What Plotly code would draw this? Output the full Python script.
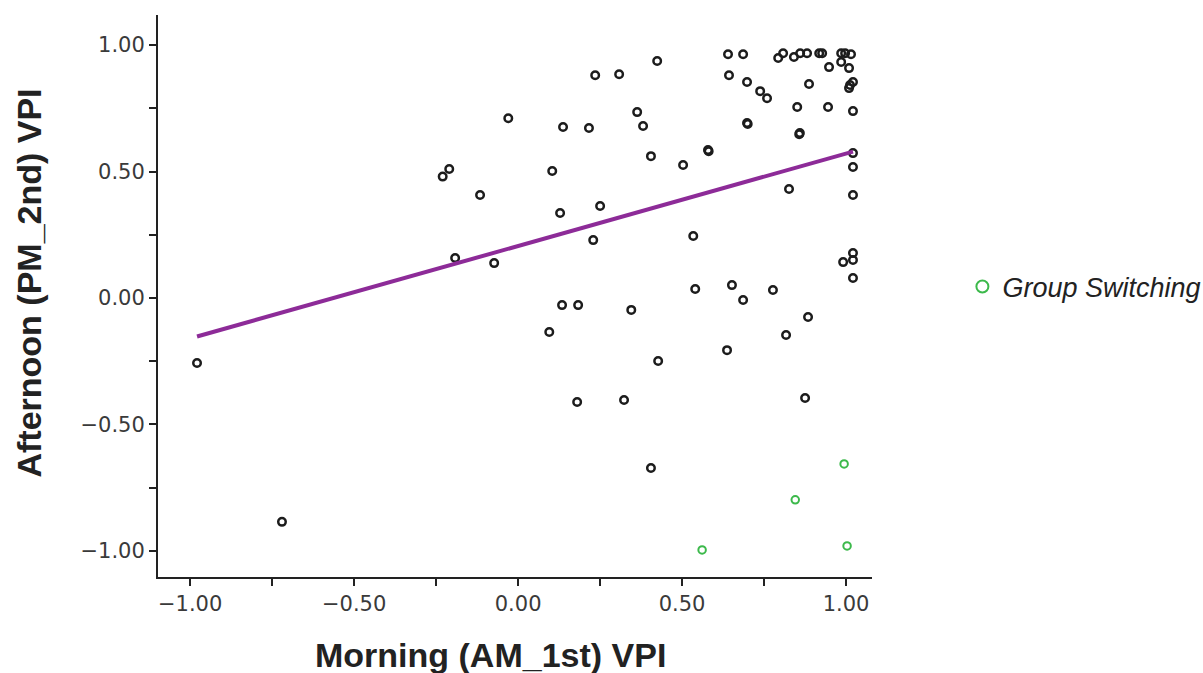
import plotly.graph_objects as go

# Morning (AM_1st) vs afternoon (PM_2nd) VPI per participant
am_vpi = [
    -0.979, -0.720, -0.230, -0.210, -0.116, -0.192, -0.073, -0.030,
    0.104, 0.128, 0.137, 0.216, 0.235, 0.308, 0.250, 0.229,
    0.363, 0.381, 0.424, 0.405, 0.503, 0.579, 0.581, 0.534,
    0.095, 0.134, 0.183, 0.345, 0.180, 0.323, 0.427, 0.405,
    0.540, 0.652, 0.686, 0.637, 0.777, 0.817, 0.884, 0.875,
    0.826, 1.021, 1.021, 0.991, 1.021, 1.021,
    0.640, 0.686, 0.793, 0.808, 0.841, 0.860, 0.881, 0.918,
    0.927, 0.985, 0.997, 1.015, 0.985, 0.948, 1.009, 0.643,
    0.698, 0.738, 0.759, 0.887, 1.021, 1.012, 1.009, 0.851,
    0.945, 1.021, 0.698, 0.700, 0.857, 0.859, 1.021, 1.021,
]
pm_vpi = [
    -0.257, -0.885, 0.480, 0.510, 0.407, 0.158, 0.138, 0.711,
    0.502, 0.336, 0.676, 0.672, 0.881, 0.885, 0.364, 0.229,
    0.735, 0.680, 0.937, 0.561, 0.526, 0.585, 0.580, 0.245,
    -0.134, -0.028, -0.028, -0.047, -0.411, -0.403, -0.249, -0.672,
    0.036, 0.051, -0.008, -0.206, 0.032, -0.146, -0.075, -0.395,
    0.431, 0.407, 0.178, 0.142, 0.150, 0.079,
    0.964, 0.964, 0.949, 0.968, 0.953, 0.968, 0.968, 0.968,
    0.968, 0.968, 0.968, 0.964, 0.933, 0.913, 0.909, 0.881,
    0.854, 0.818, 0.790, 0.846, 0.854, 0.842, 0.830, 0.755,
    0.755, 0.739, 0.692, 0.688, 0.648, 0.652, 0.573, 0.518,
]

# Participants who switched group
switch_am = [0.994, 0.845, 0.561, 1.003]
switch_pm = [-0.656, -0.798, -0.996, -0.980]

# Linear fit (slope, intercept) over the observed AM range
fit_slope = 0.3655
fit_intercept = 0.2058

fit_x = [min(am_vpi), max(am_vpi)]
fit_y = [fit_intercept + fit_slope * v for v in fit_x]

tick_vals = [-1.0, -0.5, 0.0, 0.5, 1.0]

fig = go.Figure()

fig.add_trace(go.Scatter(
    x=am_vpi, y=pm_vpi, mode="markers", showlegend=False,
    marker=dict(symbol="circle-open", size=7.5, color="#1c1c1c",
                line=dict(width=2.5, color="#1c1c1c")),
))

fig.add_trace(go.Scatter(
    x=switch_am, y=switch_pm, mode="markers", name="<i>Group Switching</i>",
    marker=dict(symbol="circle-open", size=7.5, color="#3cb94b",
                line=dict(width=2, color="#3cb94b")),
))

fig.add_trace(go.Scatter(
    x=fit_x, y=fit_y, mode="lines", showlegend=False,
    line=dict(color="#8d2b98", width=4),
))

axis_common = dict(
    showgrid=False, zeroline=False, showline=True,
    linecolor="#222222", linewidth=2,
    ticks="outside", ticklen=7, tickwidth=2, tickcolor="#222222",
    tickvals=tick_vals, tickformat=".2f",
    tickfont=dict(family="DejaVu Sans", size=21, color="#3a3a3a"),
    minor=dict(ticks="outside", dtick=0.25, tick0=0, ticklen=7,
               tickwidth=2, tickcolor="#222222"),
)

fig.update_xaxes(range=[-1.098, 1.079], **axis_common)
fig.update_yaxes(range=[-1.103, 1.119], **axis_common)

fig.update_layout(
    width=1203, height=673,
    margin=dict(l=158, r=331, t=15, b=96),
    paper_bgcolor="white", plot_bgcolor="white",
    legend=dict(
        xref="container", yref="container",
        x=0.80, y=1 - 287 / 673, xanchor="left", yanchor="middle",
        font=dict(family="Liberation Sans", size=27, color="#222222"),
        itemsizing="constant",
    ),
    annotations=[
        dict(text="<b>Morning (AM_1st) VPI</b>", xref="paper", yref="paper",
             x=0.465, y=-0.139, xanchor="center", yanchor="middle",
             showarrow=False,
             font=dict(family="Liberation Sans", size=34, color="#222222")),
        dict(text="<b>Afternoon (PM_2nd) VPI</b>", xref="paper", yref="paper",
             x=-0.18, y=0.523, xanchor="center", yanchor="middle",
             textangle=-90, showarrow=False,
             font=dict(family="Liberation Sans", size=34, color="#222222")),
    ],
)

fig.write_html("out.html")
